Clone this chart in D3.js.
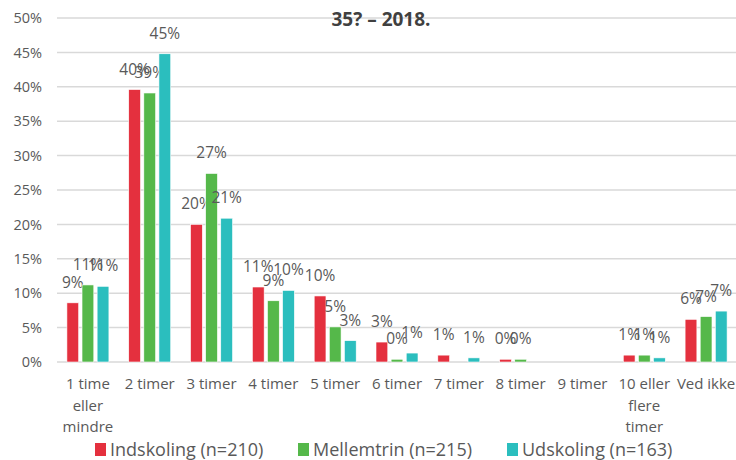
<!DOCTYPE html>
<html>
<head>
<meta charset="utf-8">
<script src="https://cdn.jsdelivr.net/npm/d3@7/dist/d3.min.js"></script>
<style>
  html, body { margin: 0; padding: 0; background: #fff; }
  svg { display: block; font-family: "Open Sans", "Noto Sans", sans-serif; }
</style>
</head>
<body>
<svg id="chart" width="736" height="460"></svg>
<script>
// Categories (hours) and the share of pupils per school stage
const categories = [
  ["1 time", "eller", "mindre"], ["2 timer"], ["3 timer"], ["4 timer"], ["5 timer"],
  ["6 timer"], ["7 timer"], ["8 timer"], ["9 timer"], ["10 eller", "flere", "timer"], ["Ved ikke"]
];
const seriesNames = ["Indskoling (n=210)", "Mellemtrin (n=215)", "Udskoling (n=163)"];
const indskoling = [0.086, 0.396, 0.200, 0.109, 0.096, 0.029, 0.010, 0.004, 0, 0.010, 0.062];
const mellemtrin = [0.112, 0.391, 0.274, 0.089, 0.051, 0.004, 0, 0.004, 0, 0.010, 0.066];
const udskoling  = [0.110, 0.448, 0.209, 0.104, 0.031, 0.013, 0.006, 0, 0, 0.006, 0.074];
const yTicks = [0, 0.05, 0.10, 0.15, 0.20, 0.25, 0.30, 0.35, 0.40, 0.45, 0.50];
const colors = ["#E4303E", "#55B84A", "#2BBEBE"];
const title = "35? – 2018.";

const svg = d3.select("#chart");
const margin = { left: 57, right: 0, top: 18, bottom: 98 };
const W = 736, H = 460;
const plotTop = margin.top, plotBottom = H - margin.bottom;

const x = d3.scaleBand()
  .domain(d3.range(categories.length))
  .range([margin.left, 737])
  .paddingInner(0).paddingOuter(0);

const y = d3.scaleLinear().domain([0, 0.5]).range([plotBottom, plotTop]);

const xSub = d3.scaleBand()
  .domain(d3.range(seriesNames.length))
  .range([0, 42])
  .paddingInner(0.22);

// gridlines
svg.append("g")
  .selectAll("line")
  .data(yTicks)
  .join("line")
  .attr("x1", margin.left).attr("x2", W)
  .attr("y1", d => y(d)).attr("y2", d => y(d))
  .attr("stroke", "#D9D9D9").attr("stroke-width", 1.5);

// y axis labels
const yAxis = d3.axisLeft(y).tickValues(yTicks).tickFormat(d3.format(".0%")).tickSize(0).tickPadding(15);
svg.append("g")
  .attr("transform", `translate(${margin.left},0)`)
  .call(yAxis)
  .call(g => g.select(".domain").remove())
  .call(g => g.selectAll("text")
    .attr("fill", "#595959")
    .attr("font-size", 14.5)
    .attr("font-family", "Open Sans, sans-serif"));

// title
svg.append("text")
  .attr("x", 381).attr("y", 26)
  .attr("text-anchor", "middle")
  .attr("font-size", 19).attr("font-weight", "bold")
  .attr("fill", "#404040")
  .text(title);

const series = [indskoling, mellemtrin, udskoling];
const fmt = d3.format(".0%");
const groupOffset = xSub.range()[1] / 2;

series.forEach((vals, si) => {
  const g = svg.append("g");
  const pts = vals.map((v, i) => ({ v, i })).filter(d => d.v > 0);
  g.selectAll("rect")
    .data(pts)
    .join("rect")
    .attr("x", d => x(d.i) + x.bandwidth() / 2 - groupOffset + xSub(si))
    .attr("width", xSub.bandwidth())
    .attr("y", d => y(d.v))
    .attr("height", d => y(0) - y(d.v))
    .attr("fill", colors[si])
    .attr("stroke", "#fff").attr("stroke-width", 0.6);
  g.selectAll("text")
    .data(pts)
    .join("text")
    .attr("x", d => x(d.i) + x.bandwidth() / 2 - groupOffset + xSub(si) + xSub.bandwidth() / 2)
    .attr("y", d => y(d.v) - 15)
    .attr("text-anchor", "middle")
    .attr("font-size", 15.5)
    .attr("fill", "#595959")
    .text(d => fmt(d.v));
});

// x axis category labels
const xl = svg.append("g");
categories.forEach((lines, i) => {
  const t = xl.append("text")
    .attr("x", x(i) + x.bandwidth() / 2)
    .attr("y", 389)
    .attr("text-anchor", "middle")
    .attr("font-size", 15)
    .attr("fill", "#595959");
  lines.forEach((ln, k) => {
    t.append("tspan").attr("x", x(i) + x.bandwidth() / 2).attr("dy", k === 0 ? 0 : 21.5).text(ln);
  });
});

// legend
const legendX = [95, 298, 507];
const lg = svg.append("g");
seriesNames.forEach((name, i) => {
  lg.append("rect")
    .attr("x", legendX[i]).attr("y", 443)
    .attr("width", 11).attr("height", 13)
    .attr("fill", colors[i]);
  lg.append("text")
    .attr("x", legendX[i] + 15).attr("y", 456)
    .attr("font-size", 18)
    .attr("fill", "#595959")
    .text(name);
});
</script>
</body>
</html>
